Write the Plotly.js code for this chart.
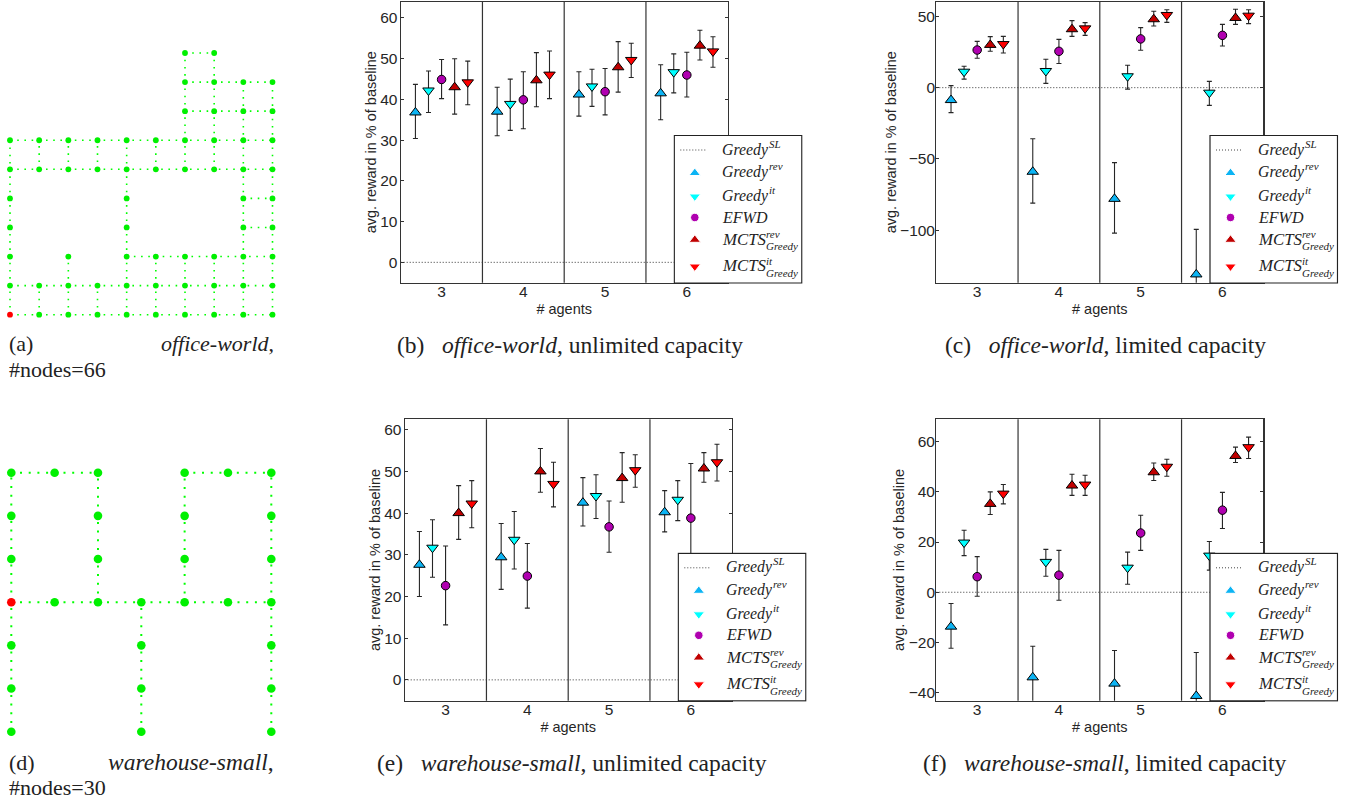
<!DOCTYPE html>
<html>
<head>
<meta charset="utf-8">
<script src="https://cdn.plot.ly/plotly-3.0.1.min.js"></script>
<style>html,body{margin:0;padding:0;background:#fff}#g{width:1353px;height:801px}</style>
</head>
<body>
<div id="g"></div>
<script>
// ---------- data ----------
const agents = [3, 4, 5, 6];
const seriesNames = ['Greedy rev', 'Greedy it', 'EFWD', 'MCTS rev', 'MCTS it'];
const seriesOffsets = [-0.32, -0.16, 0, 0.16, 0.32];
const seriesColors = ['#0cb4f4', '#00ffff', '#b000b0', '#c00000', '#ff0000'];
const seriesSymbols = ['triangle-up', 'triangle-down', 'circle', 'triangle-up', 'triangle-down'];
const seriesSizes = [10, 10, 8.5, 10, 10];

// each row: one series, each column: 3,4,5,6 agents
const bMean = [[36.8, 37, 41.2, 41.5], [42.2, 38.9, 43.2, 46.7], [44.9, 39.9, 41.9, 46], [43, 44.7, 47.9, 53.2], [44.2, 46.1, 49.7, 51.8]];
const bHigh = [[43.7, 43, 46.8, 48.5], [47, 45, 47.4, 51.2], [49.8, 46.8, 47.6, 51.6], [50, 51.5, 54.2, 57], [49.4, 51.9, 53.8, 55.4]];
const bLow = [[30.4, 31.1, 35.9, 35], [36.8, 32.4, 38.3, 41.6], [40.2, 32.8, 36.2, 40.6], [36.4, 38.2, 41.8, 49.7], [38.7, 40.2, 45.4, 47.9]];

const cMean = [[-8.7, -59, -78, -131], [11.2, 11.7, 8, -3.5], [26.4, 25.5, 34.2, 36.7], [30, 41, 48, 48.9], [30.6, 41.6, 51, 50.5]];
const cHigh = [[1.4, -35.8, -52.6, -99.4], [15, 19.9, 15.7, 4.4], [32.5, 33.9, 42.1, 44.4], [35.8, 47, 53.6, 55], [36, 45.6, 54.7, 54.7]];
const cLow = [[-17.5, -81, -102, -162], [6, 3, -1, -12.4], [20.6, 17, 26.2, 29.2], [25.5, 36, 43.3, 44.4], [24.3, 36.7, 45.8, 44.9]];

const eMean = [[27.6, 29.4, 42.5, 40.2], [31.7, 33.6, 44.1, 43.2], [22.6, 24.9, 36.7, 38.8], [40, 50, 48.4, 50.7], [42.3, 47, 50.3, 52.2]];
const eHigh = [[35.6, 37.5, 48.5, 45.4], [38.4, 40.4, 49.2, 47.8], [32.1, 32.7, 42.9, 51.9], [46.6, 55.5, 54.5, 54.5], [47.8, 52.2, 54, 56.5]];
const eLow = [[20, 21.7, 36.9, 35.5], [24.6, 26.6, 38.7, 38.2], [13.2, 17.2, 30.6, 25.7], [33.7, 45, 42.6, 47.4], [36.5, 41.5, 46.2, 47.7]];

const fMean = [[-13.7, -33.9, -36.4, -41.3], [19.8, 12.1, 9.8, 14.6], [6.2, 6.8, 23.6, 32.7], [35.2, 42.5, 47.8, 54.3], [39.3, 42.9, 50, 57.8]];
const fHigh = [[-4.5, -21.5, -23.2, -24], [24.7, 17.1, 16, 20.2], [14.2, 16.7, 30.7, 39.8], [40, 47, 51.5, 57.8], [42.9, 46.6, 53, 61.8]];
const fLow = [[-22.3, -46, -49.5, -58], [14.6, 6.4, 3.2, 8.8], [-1.6, -3.2, 16.7, 25.4], [31, 38.6, 44.5, 51.7], [35.2, 38.6, 46.2, 53.3]];

const bTicks = [0, 10, 20, 30, 40, 50, 60];
const cTicks = [-100, -50, 0, 50];
const eTicks = [0, 10, 20, 30, 40, 50, 60];
const fTicks = [-40, -20, 0, 20, 40, 60];

// grid graphs: node = [column, row], row 0 at the bottom; chains are connected polylines
const officeNodes = [
  [0,0],[1,0],[2,0],[3,0],[4,0],[5,0],[6,0],[7,0],[8,0],[9,0],
  [0,1],[1,1],[2,1],[3,1],[4,1],[5,1],[6,1],[7,1],[8,1],[9,1],
  [0,2],[2,2],[4,2],[5,2],[6,2],[7,2],[8,2],[9,2],
  [0,3],[4,3],[8,3],[9,3],
  [0,4],[4,4],[8,4],[9,4],
  [0,5],[1,5],[2,5],[3,5],[4,5],[5,5],[6,5],[7,5],[8,5],[9,5],
  [0,6],[1,6],[2,6],[3,6],[4,6],[5,6],[6,6],[7,6],[8,6],[9,6],
  [6,7],[7,7],[8,7],[9,7],
  [6,8],[7,8],[8,8],[9,8],
  [6,9],[7,9]];
const officeChains = [
  [[0,0],[9,0]], [[0,1],[9,1]], [[4,2],[9,2]], [[8,3],[9,3]], [[8,4],[9,4]],
  [[0,5],[9,5]], [[0,6],[9,6]], [[6,7],[9,7]], [[6,8],[9,8]], [[6,9],[7,9]],
  [[0,0],[0,6]], [[1,0],[1,1]], [[1,5],[1,6]], [[2,0],[2,2]], [[2,5],[2,6]],
  [[3,0],[3,1]], [[3,5],[3,6]], [[4,0],[4,6]], [[5,0],[5,2]], [[5,5],[5,6]],
  [[6,0],[6,2]], [[6,5],[6,9]], [[7,0],[7,2]], [[7,5],[7,9]], [[8,0],[8,8]], [[9,0],[9,8]]];
const officeStart = [0, 0];

const warehouseNodes = [
  [0,6],[1,6],[2,6],[4,6],[5,6],[6,6],
  [0,5],[2,5],[4,5],[6,5],
  [0,4],[2,4],[4,4],[6,4],
  [0,3],[1,3],[2,3],[3,3],[4,3],[5,3],[6,3],
  [0,2],[3,2],[6,2],
  [0,1],[3,1],[6,1],
  [0,0],[3,0],[6,0]];
const warehouseChains = [
  [[0,6],[2,6]], [[4,6],[6,6]], [[0,3],[6,3]],
  [[0,0],[0,6]], [[2,3],[2,6]], [[3,0],[3,3]], [[4,3],[4,6]], [[6,0],[6,6]]];
const warehouseStart = [0, 3];

// ---------- page geometry (pixels) ----------
const W = 1353, H = 801;
const px = v => v / W, py = v => 1 - v / H;
const AX = '"Liberation Sans", Arial, sans-serif';
const SERIF = '"Liberation Serif", "Times New Roman", serif';
const INK = '#262626';

const traces = [], shapes = [], annotations = [];
const layout = {
  width: W, height: H, margin: {l: 0, r: 0, t: 0, b: 0, pad: 0},
  paper_bgcolor: '#fff', plot_bgcolor: 'rgba(0,0,0,0)', showlegend: false,
  font: {family: AX, size: 15, color: INK}
};

function setAxes(n, box, xa, ya) {
  const s = n === 1 ? '' : String(n);
  layout['xaxis' + s] = Object.assign({domain: [px(box.x0), px(box.x1)], anchor: 'y' + s}, xa);
  layout['yaxis' + s] = Object.assign({domain: [py(box.y1), py(box.y0)], anchor: 'x' + s}, ya);
  return ['x' + s, 'y' + s];
}
const hidden = {visible: false, fixedrange: true};

// outer = pixel box of the first/last grid column and row, pad = free pixels around it
function graph(n, nodes, chains, start, outer, cols, rows, pad, nodeSize, lineWidth, dash) {
  const dx = pad * (cols - 1) / (outer.x1 - outer.x0), dy = pad * (rows - 1) / (outer.y1 - outer.y0);
  const box = {x0: outer.x0 - pad, x1: outer.x1 + pad, y0: outer.y0 - pad, y1: outer.y1 + pad};
  const [xr, yr] = setAxes(n, box, Object.assign({range: [-dx, cols - 1 + dx]}, hidden), Object.assign({range: [-dy, rows - 1 + dy]}, hidden));
  const ex = [], ey = [];
  chains.forEach(c => { ex.push(c[0][0], c[1][0], null); ey.push(c[0][1], c[1][1], null); });
  traces.push({type: 'scatter', mode: 'lines', xaxis: xr, yaxis: yr, x: ex, y: ey, hoverinfo: 'skip',
    line: {color: '#00ff00', width: lineWidth, dash: dash}});
  const others = nodes.filter(p => !(p[0] === start[0] && p[1] === start[1]));
  traces.push({type: 'scatter', mode: 'markers', xaxis: xr, yaxis: yr, x: others.map(p => p[0]), y: others.map(p => p[1]),
    marker: {color: '#00f000', size: nodeSize}});
  traces.push({type: 'scatter', mode: 'markers', xaxis: xr, yaxis: yr, x: [start[0]], y: [start[1]],
    marker: {color: '#ff0000', size: nodeSize}});
}

function chart(n, mean, high, low, ticks, box, yrange, labelShift) {
  const [xr, yr] = setAxes(n, box, {
    range: [2.5, 6.5], tickvals: agents, ticktext: agents.map(String), ticks: '', showgrid: false, zeroline: false,
    showline: true, mirror: true, linecolor: '#333', linewidth: 1.2, tickfont: {family: AX, size: 15.5, color: INK},
    ticklabelstandoff: -6,
    title: {text: '# agents', font: {family: AX, size: 14.5, color: INK}, standoff: 5}, fixedrange: true
  }, {
    range: yrange, tickvals: ticks, ticks: 'inside', ticklen: 3, tickwidth: 1, tickcolor: '#333', showgrid: false, zeroline: false,
    showline: true, mirror: 'ticks', linecolor: '#333', linewidth: 1.2, tickfont: {family: AX, size: 15.5, color: INK},
    ticklabelstandoff: labelShift,
    title: {text: 'avg. reward in % of baseline', font: {family: AX, size: 14.5, color: INK}, standoff: 0}, fixedrange: true
  });
  [3.5, 4.5, 5.5].forEach(v => shapes.push({type: 'line', xref: xr, yref: yr + ' domain', x0: v, x1: v, y0: 0, y1: 1,
    layer: 'below', line: {color: '#333', width: 1.2}}));
  traces.push({type: 'scatter', mode: 'lines', xaxis: xr, yaxis: yr, x: [2.5, 6.5], y: [0, 0], name: 'Greedy SL',
    line: {color: '#333', width: 1, dash: '1px,2px'}});
  mean.forEach((m, i) => traces.push({
    type: 'scatter', mode: 'markers', xaxis: xr, yaxis: yr, name: seriesNames[i],
    x: agents.map(a => a + seriesOffsets[i]), y: m,
    error_y: {type: 'data', symmetric: false, array: high[i].map((h, k) => h - m[k]), arrayminus: low[i].map((l, k) => m[k] - l),
      color: '#262626', thickness: 1.1, width: 2.5},
    marker: {color: seriesColors[i], symbol: seriesSymbols[i], size: seriesSizes[i], line: {color: '#000', width: 1}}
  }));
}

// legend rows measured from the top of the legend box
const legendRowY = [14.5, 37.5, 61, 82, 104.3, 131];
const legendSymbolX = 20.5, legendTextX = 46.5;
const legendW = 127.5, legendH = 147.5;
const legendTexts = [['Greedy', 'SL', ''], ['Greedy', 'rev', ''], ['Greedy', 'it', ''], ['EFWD', '', ''], ['MCTS', 'rev', 'Greedy'], ['MCTS', 'it', 'Greedy']];
const legendMainSize = {Greedy: 15.8, EFWD: 16, MCTS: 16.8};
const legendScriptX = {Greedy: 47.5, MCTS: 44.5};

function note(text, x, y, size, anchor, family) {
  annotations.push({xref: 'paper', yref: 'paper', x: px(x), y: py(y), text: text, showarrow: false, xanchor: anchor || 'left', yanchor: 'middle',
    align: anchor || 'left', borderpad: 0, font: {family: family || SERIF, size: size, color: '#222'}});
}

function legend(n, left, top) {
  const box = {x0: left - 1, x1: left + legendW + 1, y0: top - 1, y1: top + legendH + 1};
  const [xr, yr] = setAxes(n, box, Object.assign({range: [-1, legendW + 1]}, hidden), Object.assign({range: [legendH + 1, -1]}, hidden));
  shapes.push({type: 'rect', xref: xr, yref: yr, x0: 0, x1: legendW, y0: 0, y1: legendH, layer: 'below',
    fillcolor: '#fff', line: {color: '#222', width: 1.2}});
  traces.push({type: 'scatter', mode: 'lines', xaxis: xr, yaxis: yr, x: [6, 33], y: [legendRowY[0], legendRowY[0]],
    line: {color: '#444', width: 1, dash: '1px,2px'}});
  traces.push({type: 'scatter', mode: 'markers', xaxis: xr, yaxis: yr,
    x: seriesColors.map(() => legendSymbolX), y: legendRowY.slice(1),
    marker: {color: seriesColors, symbol: seriesSymbols, size: [10, 10, 8.5, 10, 10], opacity: 1}});
  legendTexts.forEach((t, i) => {
    const y = top + legendRowY[i] - 0.5;
    const x = left + legendTextX;
    note('<i>' + t[0] + '</i>', x, y, legendMainSize[t[0]]);
    if (t[1]) note('<i>' + t[1] + '</i>', x + legendScriptX[t[0]], y - (t[2] ? 5 : 6), 11);
    if (t[2]) note('<i>' + t[2] + '</i>', x + legendScriptX[t[0]], y + 7, 11);
  });
}

// ---------- panels ----------
graph(1, officeNodes, officeChains, officeStart, {x0: 10, x1: 272.5, y0: 53, y1: 314.7}, 10, 10, 8, 5.8, 1.6, '1.6px,5.6px');
chart(2, bMean, bHigh, bLow, bTicks, {x0: 400.7, x1: 727.7, y0: 1.7, y1: 282.7}, [-5, 64], -1);
chart(3, cMean, cHigh, cLow, cTicks, {x0: 936.3, x1: 1263.3, y0: 1.7, y1: 282.7}, [-136.8, 60.3], -3);
graph(4, warehouseNodes, warehouseChains, warehouseStart, {x0: 11.3, x1: 271.3, y0: 472.7, y1: 731.7}, 7, 7, 8, 8.6, 2, '2px,6.7px');
chart(5, eMean, eHigh, eLow, eTicks, {x0: 404.7, x1: 731.7, y0: 419.3, y1: 700.7}, [-5, 62.5], -1);
chart(6, fMean, fHigh, fLow, fTicks, {x0: 936.3, x1: 1263.3, y0: 419.3, y1: 700.7}, [-43.2, 68.9], -3);

legend(7, 674.3, 135.5);
legend(8, 1210, 135.5);
legend(9, 678.3, 553.3);
legend(10, 1210, 553.3);

// ---------- captions ----------
const CAP = 23.5, SIDE = 22;
const GAP = '\u00A0\u00A0\u00A0';
note('(a)', 8, 344, SIDE);
note('<i>office-world</i>,', 275, 344, SIDE, 'right');
note('#nodes=66', 8, 369, SIDE);
note('(b)' + GAP + '<i>office-world</i>, unlimited capacity', 569.5, 345, CAP, 'center');
note('(c)' + GAP + '<i>office-world</i>, limited capacity', 1105, 345, CAP, 'center');
note('(d)', 8, 762, SIDE);
note('<i>warehouse-small</i>,', 275, 762, CAP, 'right');
note('#nodes=30', 8, 787, SIDE);
note('(e)' + GAP + '<i>warehouse-small</i>, unlimited capacity', 572.3, 763, CAP, 'center');
note('(f)' + GAP + '<i>warehouse-small</i>, limited capacity', 1104.5, 763, CAP, 'center');

layout.shapes = shapes;
layout.annotations = annotations;
Plotly.newPlot('g', traces, layout, {displayModeBar: false, staticPlot: true});
</script>
</body>
</html>
